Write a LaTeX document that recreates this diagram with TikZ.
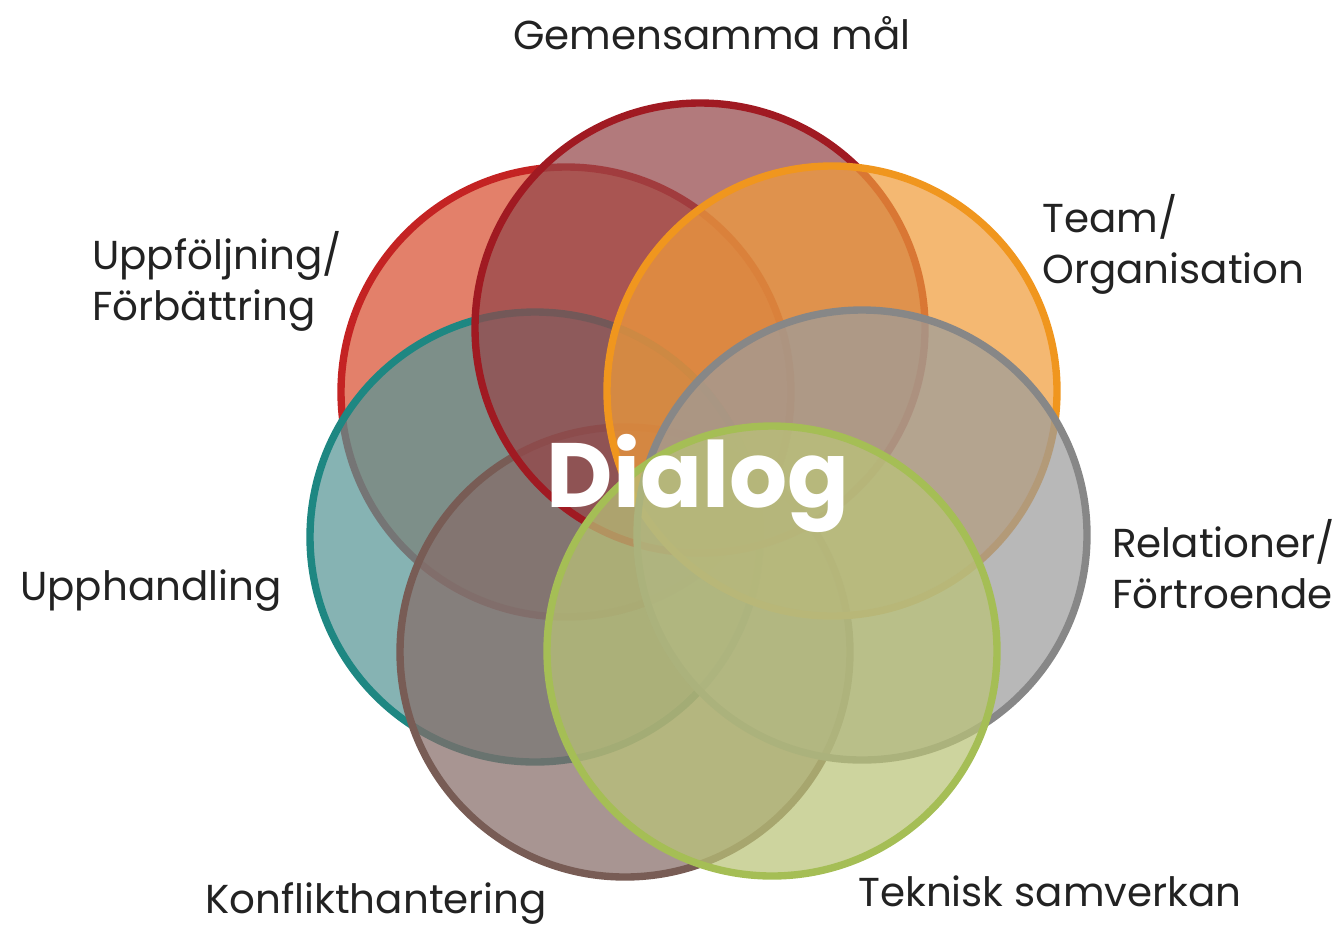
\documentclass[tikz,border=0pt]{standalone}
\usepackage{fontspec}
\setmainfont{Poppins}
\definecolor{uppfline}{RGB}{196,35,35}
\definecolor{uppffill}{RGB}{216,79,48}
\definecolor{malline}{RGB}{160,26,34}
\definecolor{malfill}{RGB}{148,70,73}
\definecolor{teamline}{RGB}{240,150,30}
\definecolor{teamfill}{RGB}{240,156,59}
\definecolor{relline}{RGB}{135,135,135}
\definecolor{relfill}{RGB}{156,156,156}
\definecolor{teknline}{RGB}{165,190,85}
\definecolor{teknfill}{RGB}{186,195,120}
\definecolor{konfline}{RGB}{120,92,85}
\definecolor{konffill}{RGB}{134,108,104}
\definecolor{upphline}{RGB}{30,135,130}
\definecolor{upphfill}{RGB}{87,149,149}
\definecolor{lbltext}{RGB}{34,34,34}
\begin{document}
\begin{tikzpicture}[x=0.02cm,y=-0.02cm,
    ring/.style={line width=4.2pt,fill opacity=0.72},
    lbl/.style={font=\fontsize{23}{28.5}\selectfont,text=lbltext,inner sep=0pt,align=left}]
  \useasboundingbox (0,0) rectangle (1341,927);
  % centres of the seven circles
  \coordinate (uppf) at (566,392);
  \coordinate (mal) at (700,328);
  \coordinate (team) at (832,391);
  \coordinate (rel) at (862,535);
  \coordinate (tekn) at (772,651);
  \coordinate (konf) at (625,652);
  \coordinate (upph) at (535,537);
  \draw[ring,draw=uppfline,fill=uppffill] (uppf) circle (225);
  \draw[ring,draw=upphline,fill=upphfill] (upph) circle (225);
  \draw[ring,draw=konfline,fill=konffill] (konf) circle (225);
  \draw[ring,draw=malline,fill=malfill] (mal) circle (225);
  \draw[ring,draw=teamline,fill=teamfill] (team) circle (225);
  \draw[ring,draw=relline,fill=relfill] (rel) circle (225);
  \draw[ring,draw=teknline,fill=teknfill] (tekn) circle (225);
  % labels
  \node[font=\bfseries\fontsize{52}{52}\selectfont,text=white,inner sep=0pt,anchor=base] (dialog) at (698,507) {Dialog};
  \node[lbl,anchor=base] (malt) at (712,49) {Gemensamma mål};
  \node[lbl,anchor=base west] (teamt) at (1042,283) {Team/\\Organisation};
  \node[lbl,anchor=base west] (uppft) at (92,320) {Uppföljning/\\Förbättring};
  \node[lbl,anchor=base west] (uppht) at (20,600) {Upphandling};
  \node[lbl,anchor=base west] (relt) at (1112,608) {Relationer/\\Förtroende};
  \node[lbl,anchor=base west] (konft) at (205,913) {Konflikthantering};
  \node[lbl,anchor=base west] (teknt) at (858,906) {Teknisk samverkan};
\end{tikzpicture}
\end{document}
